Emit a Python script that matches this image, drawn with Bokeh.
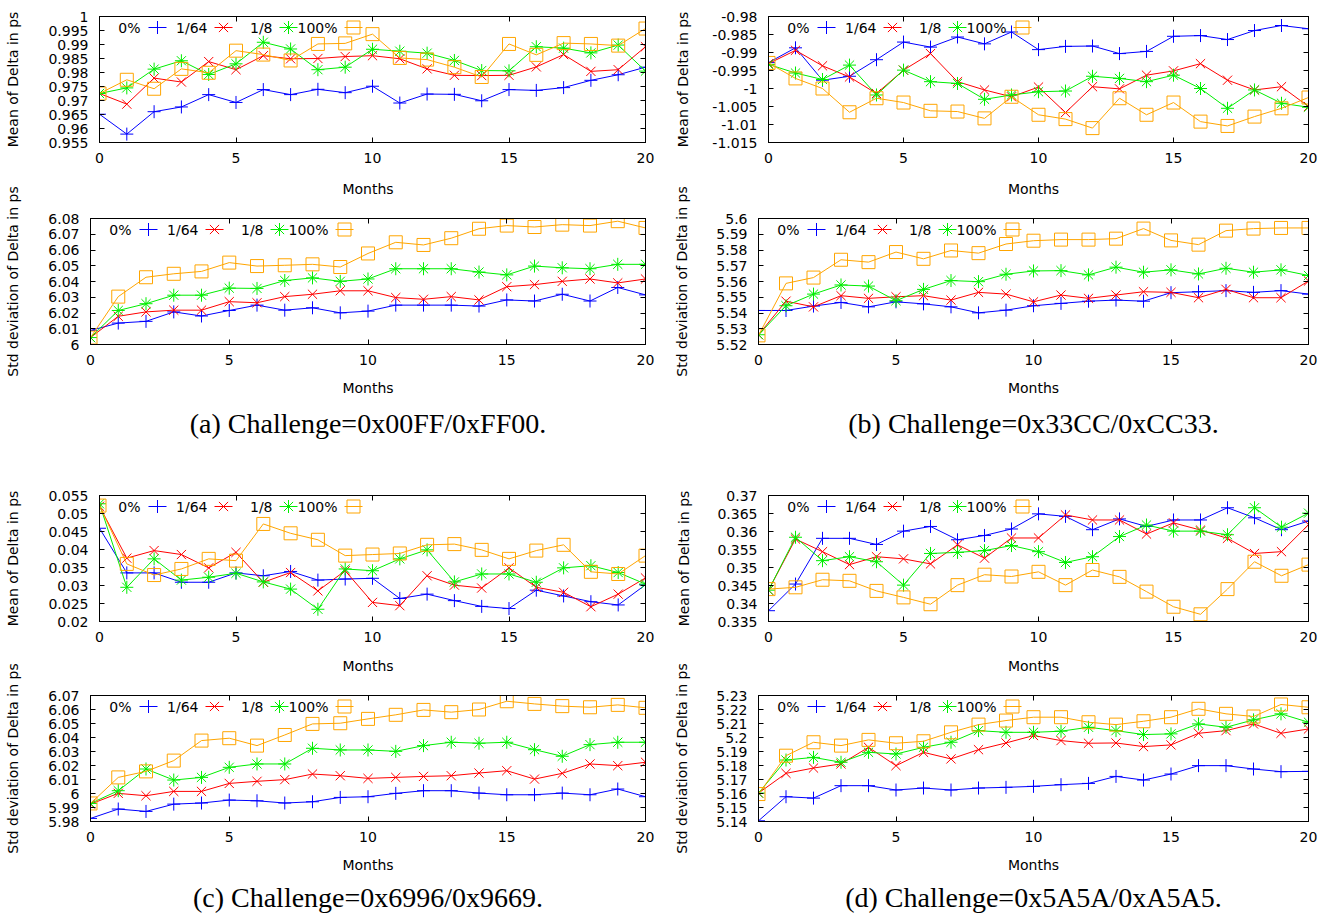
from bokeh.plotting import figure
from bokeh.layouts import column, row
from bokeh.models import Range1d, FixedTicker, LinearAxis, CustomJSTickFormatter, Title
from bokeh.core.properties import value
from bokeh.embed import file_html
from bokeh.resources import INLINE

# ---------------- data ----------------
MONTHS = list(range(21))
SERIES_LABELS = ["0%", "1/64", "1/8", "100%"]
X_TICKS = [0, 5, 10, 15, 20]

# (a) Challenge=0x00FF/0xFF00
A_MEAN_0 = [0.9651, 0.9580, 0.9660, 0.9677, 0.9721, 0.9693, 0.9739, 0.9721, 0.9740, 0.9728, 0.9751,
            0.9691, 0.9723, 0.9722, 0.9699, 0.9739, 0.9736, 0.9746, 0.9772, 0.9792, 0.9819]
A_MEAN_1_64 = [0.9725, 0.9687, 0.9780, 0.9766, 0.9839, 0.9810, 0.9860, 0.9849, 0.9850, 0.9857, 0.9860,
               0.9849, 0.9813, 0.9790, 0.9789, 0.9790, 0.9820, 0.9864, 0.9804, 0.9810, 0.9892]
A_MEAN_1_8 = [0.9725, 0.9745, 0.9812, 0.9842, 0.9793, 0.9831, 0.9908, 0.9884, 0.9810, 0.9819, 0.9883,
              0.9876, 0.9869, 0.9843, 0.9807, 0.9806, 0.9892, 0.9887, 0.9870, 0.9898, 0.9805]
A_MEAN_100 = [0.9725, 0.9774, 0.9742, 0.9813, 0.9799, 0.9878, 0.9864, 0.9843, 0.9902, 0.9904, 0.9937,
              0.9852, 0.9846, 0.9819, 0.9784, 0.9902, 0.9863, 0.9905, 0.9902, 0.9896, 0.9957]
A_STD_0 = [6.0089, 6.0136, 6.0147, 6.0207, 6.0181, 6.0216, 6.0250, 6.0218, 6.0233, 6.0201, 6.0212,
           6.0250, 6.0250, 6.0250, 6.0244, 6.0283, 6.0276, 6.0319, 6.0276, 6.0362, 6.0315]
A_STD_1_64 = [6.0044, 6.0179, 6.0207, 6.0218, 6.0218, 6.0272, 6.0265, 6.0304, 6.0319, 6.0341, 6.0341,
              6.0298, 6.0287, 6.0304, 6.0283, 6.0367, 6.0380, 6.0401, 6.0416, 6.0391, 6.0416]
A_STD_1_8 = [6.0044, 6.0216, 6.0259, 6.0313, 6.0313, 6.0358, 6.0356, 6.0406, 6.0423, 6.0401, 6.0416,
             6.0481, 6.0481, 6.0481, 6.0460, 6.0442, 6.0498, 6.0487, 6.0481, 6.0509, 6.0509]
A_STD_100 = [6.0044, 6.0304, 6.0427, 6.0449, 6.0464, 6.0520, 6.0498, 6.0503, 6.0509, 6.0492, 6.0578,
             6.0649, 6.0632, 6.0675, 6.0735, 6.0755, 6.0746, 6.0761, 6.0755, 6.0783, 6.0740]

# (b) Challenge=0x33CC/0xCC33
B_MEAN_0 = [-0.9928, -0.9887, -0.9977, -0.9966, -0.9920, -0.9871, -0.9885, -0.9857, -0.9876, -0.9843, -0.9892,
            -0.9883, -0.9882, -0.9903, -0.9897, -0.9855, -0.9853, -0.9864, -0.9839, -0.9825, -0.9834]
B_MEAN_1_64 = [-0.9931, -0.9894, -0.9937, -0.9968, -1.0014, -0.9949, -0.9903, -0.9981, -1.0004, -1.0023, -0.9996,
               -1.0067, -0.9995, -1.0001, -0.9963, -0.9951, -0.9931, -0.9977, -1.0004, -0.9995, -1.0050]
B_MEAN_1_8 = [-0.9933, -0.9957, -0.9975, -0.9935, -1.0018, -0.9949, -0.9981, -0.9986, -1.0030, -1.0018, -1.0009,
              -1.0007, -0.9966, -0.9972, -0.9981, -0.9963, -1.0000, -1.0055, -1.0004, -1.0041, -1.0052]
B_MEAN_100 = [-0.9929, -0.9972, -1.0000, -1.0066, -1.0027, -1.0039, -1.0062, -1.0064, -1.0083, -1.0023, -1.0073,
              -1.0085, -1.0110, -1.0027, -1.0073, -1.0039, -1.0092, -1.0104, -1.0078, -1.0055, -1.0025]
B_STD_0 = [5.5416, 5.5416, 5.5444, 5.5467, 5.5439, 5.5471, 5.5458, 5.5439, 5.5401, 5.5418, 5.5446,
           5.5461, 5.5475, 5.5482, 5.5475, 5.5529, 5.5535, 5.5542, 5.5531, 5.5542, 5.5520]
B_STD_1_64 = [5.5262, 5.5475, 5.5439, 5.5510, 5.5493, 5.5503, 5.5510, 5.5482, 5.5531, 5.5520, 5.5471,
              5.5514, 5.5493, 5.5514, 5.5535, 5.5531, 5.5497, 5.5550, 5.5497, 5.5497, 5.5603]
B_STD_1_8 = [5.5262, 5.5446, 5.5520, 5.5578, 5.5571, 5.5478, 5.5550, 5.5606, 5.5599, 5.5646, 5.5667,
             5.5669, 5.5642, 5.5691, 5.5659, 5.5674, 5.5648, 5.5684, 5.5659, 5.5674, 5.5638]
B_STD_100 = [5.5258, 5.5588, 5.5625, 5.5738, 5.5723, 5.5787, 5.5744, 5.5797, 5.5780, 5.5838, 5.5859,
             5.5866, 5.5866, 5.5872, 5.5936, 5.5861, 5.5834, 5.5923, 5.5936, 5.5940, 5.5940]

# (c) Challenge=0x6996/0x9669
C_MEAN_0 = [0.0459, 0.0335, 0.0335, 0.0309, 0.0309, 0.0335, 0.0327, 0.0339, 0.0315, 0.0318, 0.0320,
            0.0264, 0.0276, 0.0258, 0.0242, 0.0236, 0.0287, 0.0271, 0.0255, 0.0246, 0.0302]
C_MEAN_1_64 = [0.0520, 0.0376, 0.0397, 0.0386, 0.0349, 0.0392, 0.0309, 0.0336, 0.0285, 0.0341, 0.0253,
               0.0244, 0.0327, 0.0301, 0.0293, 0.0349, 0.0295, 0.0281, 0.0241, 0.0276, 0.0321]
C_MEAN_1_8 = [0.0527, 0.0295, 0.0374, 0.0315, 0.0323, 0.0334, 0.0310, 0.0290, 0.0234, 0.0346, 0.0341,
              0.0374, 0.0399, 0.0310, 0.0332, 0.0332, 0.0309, 0.0349, 0.0355, 0.0336, 0.0304]
C_MEAN_100 = [0.0522, 0.0360, 0.0329, 0.0346, 0.0374, 0.0369, 0.0471, 0.0445, 0.0427, 0.0383, 0.0386,
              0.0389, 0.0413, 0.0415, 0.0399, 0.0374, 0.0397, 0.0413, 0.0338, 0.0332, 0.0383]
C_STD_0 = [5.9822, 5.9889, 5.9872, 5.9924, 5.9932, 5.9953, 5.9948, 5.9932, 5.9941, 5.9972, 5.9977,
           6.0001, 6.0020, 6.0020, 6.0003, 5.9991, 5.9991, 6.0003, 5.9991, 6.0032, 5.9977]
C_STD_1_64 = [5.9924, 6.0001, 5.9984, 6.0015, 6.0015, 6.0072, 6.0087, 6.0099, 6.0139, 6.0127, 6.0108,
              6.0115, 6.0122, 6.0127, 6.0146, 6.0163, 6.0103, 6.0144, 6.0211, 6.0199, 6.0223]
C_STD_1_8 = [5.9929, 6.0020, 6.0175, 6.0096, 6.0115, 6.0187, 6.0211, 6.0211, 6.0323, 6.0311, 6.0311,
             6.0301, 6.0342, 6.0366, 6.0359, 6.0366, 6.0313, 6.0266, 6.0349, 6.0366, 6.0366]
C_STD_100 = [5.9929, 6.0115, 6.0158, 6.0235, 6.0378, 6.0395, 6.0342, 6.0418, 6.0497, 6.0502, 6.0533,
             6.0562, 6.0597, 6.0581, 6.0600, 6.0659, 6.0640, 6.0624, 6.0616, 6.0633, 6.0612]

# (d) Challenge=0x5A5A/0xA5A5
D_MEAN_0 = [0.3380, 0.3454, 0.3581, 0.3581, 0.3564, 0.3601, 0.3614, 0.3577, 0.3589, 0.3607, 0.3649,
            0.3642, 0.3605, 0.3635, 0.3614, 0.3632, 0.3632, 0.3666, 0.3638, 0.3605, 0.3629]
D_MEAN_1_64 = [0.3437, 0.3579, 0.3544, 0.3508, 0.3530, 0.3524, 0.3510, 0.3563, 0.3526, 0.3582, 0.3582,
               0.3646, 0.3632, 0.3632, 0.3593, 0.3624, 0.3604, 0.3581, 0.3539, 0.3544, 0.3619]
D_MEAN_1_8 = [0.3437, 0.3584, 0.3519, 0.3530, 0.3516, 0.3451, 0.3539, 0.3542, 0.3547, 0.3561, 0.3544,
              0.3514, 0.3530, 0.3586, 0.3618, 0.3601, 0.3601, 0.3591, 0.3666, 0.3612, 0.3651]
D_MEAN_100 = [0.3440, 0.3445, 0.3466, 0.3463, 0.3435, 0.3417, 0.3398, 0.3451, 0.3480, 0.3475, 0.3488,
              0.3451, 0.3493, 0.3474, 0.3433, 0.3391, 0.3370, 0.3440, 0.3516, 0.3477, 0.3508]
D_STD_0 = [5.1405, 5.1577, 5.1567, 5.1656, 5.1656, 5.1625, 5.1639, 5.1625, 5.1639, 5.1644, 5.1651,
           5.1663, 5.1672, 5.1722, 5.1696, 5.1739, 5.1799, 5.1799, 5.1775, 5.1756, 5.1758]
D_STD_1_64 = [5.1603, 5.1744, 5.1782, 5.1811, 5.1930, 5.1799, 5.1894, 5.1847, 5.1913, 5.1961, 5.2014,
              5.1978, 5.1959, 5.1961, 5.1935, 5.1947, 5.2030, 5.2049, 5.2097, 5.2030, 5.2061]
D_STD_1_8 = [5.1603, 5.1839, 5.1858, 5.1823, 5.1894, 5.1882, 5.1930, 5.1966, 5.2049, 5.2037, 5.2037,
             5.2045, 5.2073, 5.2049, 5.2021, 5.2026, 5.2097, 5.2073, 5.2126, 5.2169, 5.2109]
D_STD_100 = [5.1596, 5.1870, 5.1966, 5.1942, 5.1983, 5.1959, 5.1973, 5.2037, 5.2092, 5.2121, 5.2145,
             5.2145, 5.2109, 5.2092, 5.2116, 5.2145, 5.2205, 5.2169, 5.2150, 5.2236, 5.2216]

# y-axis tick values
A_MEAN_TICKS = [0.955, 0.96, 0.965, 0.97, 0.975, 0.98, 0.985, 0.99, 0.995, 1.0]
A_STD_TICKS = [6.0, 6.01, 6.02, 6.03, 6.04, 6.05, 6.06, 6.07, 6.08]
B_MEAN_TICKS = [-1.015, -1.01, -1.005, -1.0, -0.995, -0.99, -0.985, -0.98]
B_STD_TICKS = [5.52, 5.53, 5.54, 5.55, 5.56, 5.57, 5.58, 5.59, 5.6]
C_MEAN_TICKS = [0.02, 0.025, 0.03, 0.035, 0.04, 0.045, 0.05, 0.055]
C_STD_TICKS = [5.98, 5.99, 6.0, 6.01, 6.02, 6.03, 6.04, 6.05, 6.06, 6.07]
D_MEAN_TICKS = [0.335, 0.34, 0.345, 0.35, 0.355, 0.36, 0.365, 0.37]
D_STD_TICKS = [5.14, 5.15, 5.16, 5.17, 5.18, 5.19, 5.2, 5.21, 5.22, 5.23]

CAPTIONS = ["(a) Challenge=0x00FF/0xFF00.", "(b) Challenge=0x33CC/0xCC33.",
            "(c) Challenge=0x6996/0x9669.", "(d) Challenge=0x5A5A/0xA5A5."]
X_LABEL = "Months"
MEAN_LAB = "Mean of Delta in ps"
STD_LAB = "Std deviation of Delta in ps"

# ---------------- styles ----------------
COLORS = ["#0000ff", "#ff0000", "#00ee00", "#ffa500"]
MARKERS = ["cross", "x", "asterisk", "square"]
MARKER_SIZE = 13
FONT = "DejaVu Sans"
SERIF = "Liberation Serif"
FRAME_H = 126
LEG_TEXT_RIGHT = [41, 108, 173, 238]
LEG_SAMPLE_CENTER = [58, 124, 189, 254]


def make_plot(series, ticks, ylabel, frame_w, bl, br, bt, bb, ylab_standoff,
              top_label=False, caption=None, cap_standoff=10):
    ylo, yhi = ticks[0], ticks[-1]
    p = figure(frame_width=frame_w, frame_height=FRAME_H,
               min_border_left=bl, min_border_right=br, min_border_top=bt, min_border_bottom=bb,
               x_range=Range1d(0, 20), y_range=Range1d(ylo, yhi),
               output_backend="svg", toolbar_location=None, tools="")
    p.grid.visible = False
    p.background_fill_color = "white"
    p.border_fill_color = "white"
    p.outline_line_color = "black"
    p.outline_line_alpha = 1.0
    p.outline_line_width = 1

    fmt = CustomJSTickFormatter(code="return String(parseFloat(tick.toFixed(4)));")
    for ax in (p.xaxis[0], p.yaxis[0]):
        ax.axis_line_color = "black"
        ax.major_tick_in = 5
        ax.major_tick_out = 0
        ax.minor_tick_in = 0
        ax.minor_tick_out = 0
        ax.major_tick_line_color = "black"
        ax.major_label_text_font = FONT
        ax.major_label_text_font_size = "14px"
        ax.major_label_text_color = "black"
        ax.axis_label_text_font = FONT
        ax.axis_label_text_font_size = "14px"
        ax.axis_label_text_font_style = "normal"
        ax.axis_label_text_color = "black"
        ax.formatter = fmt
    xa = p.xaxis[0]
    ya = p.yaxis[0]
    xa.ticker = FixedTicker(ticks=X_TICKS)
    ya.ticker = FixedTicker(ticks=ticks)
    xa.major_label_standoff = 10
    if caption:
        xa.axis_label = X_LABEL
        xa.axis_label_standoff = 12
    ya.axis_label = ylabel
    ya.major_label_standoff = 11
    ya.axis_label_standoff = ylab_standoff

    for side, tk in (("above", X_TICKS), ("right", ticks)):
        m = LinearAxis(ticker=FixedTicker(ticks=tk),
                       formatter=CustomJSTickFormatter(code="return '';"),
                       major_label_text_font_size="0px", major_label_standoff=0,
                       major_tick_in=5, major_tick_out=0, minor_tick_in=0, minor_tick_out=0,
                       axis_line_color="black", major_tick_line_color="black")
        p.add_layout(m, side)

    if top_label:
        # x-axis title of the "mean" plot sitting just above this one
        # (two-line box so that the word sits higher, away from this frame)
        t = Title(text=X_LABEL + "\n", align="center", text_font=FONT, text_font_size="14px",
                  text_font_style="normal", text_color="black", standoff=12)
        p.add_layout(t, "above")

    # data series
    for vals, c, mk in zip(series, COLORS, MARKERS):
        p.line(MONTHS, vals, line_color=c, line_width=1)
        p.scatter(MONTHS, vals, marker=mk, size=MARKER_SIZE, line_color=c, fill_color=None, line_width=1)

    # gnuplot-style key: label then sample
    dx = 20.0 / frame_w
    ly = yhi - 11.0 * (yhi - ylo) / FRAME_H
    for i, (lab, c, mk) in enumerate(zip(SERIES_LABELS, COLORS, MARKERS)):
        p.text(x=[LEG_TEXT_RIGHT[i] * dx], y=[ly], text=[lab], text_align="right",
               text_baseline="middle", text_font=value(FONT), text_font_size="14px",
               text_color="black")
        cx = LEG_SAMPLE_CENTER[i] * dx
        p.line(x=[cx - 9 * dx, cx + 9 * dx], y=[ly, ly], line_color=c, line_width=1)
        p.scatter(x=[cx], y=[ly], marker=mk, size=MARKER_SIZE, line_color=c, fill_color=None, line_width=1)

    if caption:
        t = Title(text=caption, align="center", text_font=SERIF, text_font_size="28px",
                  text_font_style="normal", text_color="black", standoff=cap_standoff)
        p.add_layout(t, "below")
    return p


a_mean = make_plot([A_MEAN_0, A_MEAN_1_64, A_MEAN_1_8, A_MEAN_100], A_MEAN_TICKS, MEAN_LAB,
                   546, 99, 24, 16, 27, 24)
b_mean = make_plot([B_MEAN_0, B_MEAN_1_64, B_MEAN_1_8, B_MEAN_100], B_MEAN_TICKS, MEAN_LAB,
                   540, 99, 28, 16, 27, 18)
a_std = make_plot([A_STD_0, A_STD_1_64, A_STD_1_8, A_STD_100], A_STD_TICKS, STD_LAB,
                  555, 90, 24, 49, 126, 24, True, CAPTIONS[0], 15)
b_std = make_plot([B_STD_0, B_STD_1_64, B_STD_1_8, B_STD_100], B_STD_TICKS, STD_LAB,
                  550, 89, 28, 49, 126, 23, True, CAPTIONS[1], 15)
c_mean = make_plot([C_MEAN_0, C_MEAN_1_64, C_MEAN_1_8, C_MEAN_100], C_MEAN_TICKS, MEAN_LAB,
                   546, 99, 24, 25, 27, 24)
d_mean = make_plot([D_MEAN_0, D_MEAN_1_64, D_MEAN_1_8, D_MEAN_100], D_MEAN_TICKS, MEAN_LAB,
                   540, 99, 28, 25, 27, 22)
c_std = make_plot([C_STD_0, C_STD_1_64, C_STD_1_8, C_STD_100], C_STD_TICKS, STD_LAB,
                  555, 90, 24, 47, 94, 24, True, CAPTIONS[2], 8)
d_std = make_plot([D_STD_0, D_STD_1_64, D_STD_1_8, D_STD_100], D_STD_TICKS, STD_LAB,
                  550, 89, 28, 47, 94, 23, True, CAPTIONS[3], 8)

layout = column(row(a_mean, b_mean), row(a_std, b_std), row(c_mean, d_mean), row(c_std, d_std))

open("out.html", "w").write(file_html(layout, INLINE))
